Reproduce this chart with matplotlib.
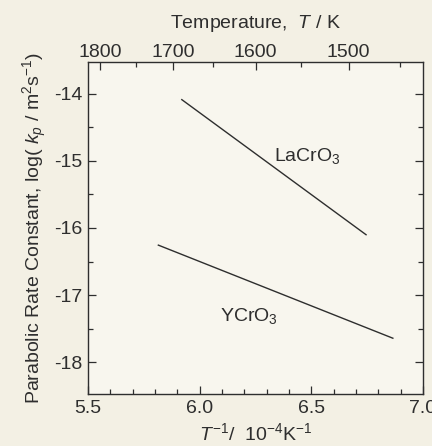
import matplotlib
matplotlib.use("Agg")
import matplotlib.pyplot as plt
import numpy as np
from matplotlib.ticker import MultipleLocator, FixedLocator

plt.rcParams["font.family"] = ["Liberation Sans", "DejaVu Sans"]
plt.rcParams["mathtext.fontset"] = "custom"
plt.rcParams["mathtext.rm"] = "Liberation Sans"
plt.rcParams["mathtext.it"] = "Liberation Sans:italic"
plt.rcParams["axes.unicode_minus"] = False

# Arrhenius lines: inverse temperature (1e4/K) vs log(kp)
lacro3_inv_t = [5.92, 6.745]
lacro3_logkp = [-14.09, -16.10]
ycro3_inv_t = [5.815, 6.865]
ycro3_logkp = [-16.255, -17.64]

temp_major = [1800, 1700, 1600, 1500]
temp_minor = [1750, 1650, 1550, 1450]

ink = "#2e2e2e"
paper = "#f3f0e4"
fs = 14

fig = plt.figure(figsize=(4.32, 4.46), dpi=100, facecolor=paper)
ax = fig.add_axes([0.2037, 0.1166, 0.7755, 0.7444])
ax.set_facecolor("#f8f6ee")

ax.plot(lacro3_inv_t, lacro3_logkp, color=ink, lw=1.0)
ax.plot(ycro3_inv_t, ycro3_logkp, color=ink, lw=1.0)

ax.text(6.48, -14.93, "LaCrO$_3$", fontsize=fs, color=ink, ha="center", va="center")
ax.text(6.22, -17.31, "YCrO$_3$", fontsize=fs, color=ink, ha="center", va="center")

ax.set_xlim(5.5, 7.0)
ax.set_ylim(-18.47, -13.53)

ax.xaxis.set_major_locator(MultipleLocator(0.5))
ax.xaxis.set_minor_locator(MultipleLocator(0.1))
ax.yaxis.set_major_locator(MultipleLocator(1))
ax.yaxis.set_minor_locator(MultipleLocator(0.5))
ax.xaxis.set_major_formatter(plt.FuncFormatter(lambda v, p: f"{v:.1f}"))
ax.yaxis.set_major_formatter(plt.FuncFormatter(lambda v, p: f"{v:.0f}"))

ax.tick_params(which="both", direction="in", colors=ink, labelsize=fs,
               width=0.9, right=True, top=False)
ax.tick_params(which="major", length=6, pad=4)
ax.tick_params(which="minor", length=3.5)

for s in ax.spines.values():
    s.set_color(ink)
    s.set_linewidth(1.0)

# Temperature scale on top
top = ax.secondary_xaxis("top", functions=(lambda x: 1e4 / np.where(x == 0, 1e-9, x),
                                           lambda t: 1e4 / np.where(t == 0, 1e-9, t)))
top.xaxis.set_major_locator(FixedLocator(temp_major))
top.xaxis.set_minor_locator(FixedLocator(temp_minor))
top.xaxis.set_major_formatter(plt.FuncFormatter(lambda v, p: f"{v:.0f}"))
top.tick_params(which="both", direction="in", colors=ink, labelsize=fs, width=0.9)
top.tick_params(which="major", length=6, pad=1)
top.tick_params(which="minor", length=3.5)
top.spines["top"].set_visible(False)
top.set_xlabel("Temperature,  $T$ / K", fontsize=fs, color=ink, labelpad=11)

ax.set_xlabel("$T^{-1}$/  10$^{-4}$K$^{-1}$", fontsize=fs, color=ink, labelpad=4)
ax.set_ylabel("Parabolic Rate Constant, log( $k_p$ / m$^2$s$^{-1}$)", fontsize=fs,
              color=ink, labelpad=4)

fig.savefig("out.png", dpi=100, facecolor=paper)
